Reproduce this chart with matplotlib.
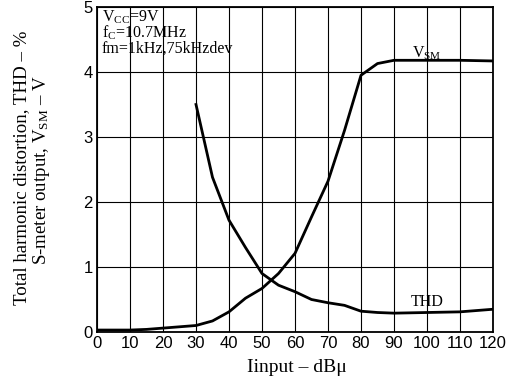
import matplotlib
matplotlib.use('Agg')
import matplotlib.pyplot as plt

plt.rcParams['mathtext.fontset'] = 'custom'
plt.rcParams['mathtext.rm'] = 'Liberation Serif'
plt.rcParams['mathtext.it'] = 'Liberation Serif:italic'

# S-meter output / THD vs input level
vsm_x = [0, 10, 15, 20, 30, 35, 40, 45, 50, 55, 60, 65, 70, 75, 80, 85, 90, 100, 110, 120]
vsm_y = [0.03, 0.03, 0.04, 0.06, 0.10, 0.17, 0.31, 0.52, 0.67, 0.90, 1.21, 1.77, 2.32, 3.10, 3.95, 4.13, 4.18, 4.18, 4.18, 4.17]

thd_x = [30, 35, 40, 45, 50, 55, 60, 65, 70, 75, 80, 85, 90, 100, 110, 120]
thd_y = [3.50, 2.38, 1.72, 1.30, 0.90, 0.72, 0.62, 0.50, 0.45, 0.41, 0.32, 0.30, 0.29, 0.30, 0.31, 0.35]

x_ticks = list(range(0, 121, 10))
y_ticks = [0, 1, 2, 3, 4, 5]

serif = 'Liberation Serif'

fig = plt.figure(figsize=(5.09, 3.81), dpi=100)
ax = fig.add_axes([97 / 509, 1 - 332 / 381, 396 / 509, 325 / 381])

ax.plot(vsm_x, vsm_y, color='black', lw=2)
ax.plot(thd_x, thd_y, color='black', lw=2)

ax.set_xlim(0, 120)
ax.set_ylim(0, 5)
ax.set_xticks(x_ticks)
ax.set_yticks(y_ticks)
ax.tick_params(length=0, labelsize=12, pad=3)
for lab in ax.get_xticklabels() + ax.get_yticklabels():
    lab.set_fontfamily('Liberation Sans')
ax.grid(True, color='black', lw=0.8)
for s in ax.spines.values():
    s.set_linewidth(1.3)

ax.text(100, 4.29, r'V$_{\mathregular{SM}}$', ha='center', va='center', fontsize=11.5, family=serif)
ax.text(100, 0.46, 'THD', ha='center', va='center', fontsize=11.5, family=serif)

ax.text(1.5, 4.98, 'V$_{\\mathregular{CC}}$=9V\nf$_{\\mathregular{C}}$=10.7MHz\nfm=1kHz,75kHzdev',
        ha='left', va='top', fontsize=11.5, family=serif, linespacing=0.85)

fig.text(297 / 509, 1 - 367 / 381, 'Iinput – dBμ', ha='center', va='center', fontsize=14, family=serif)
fig.text(22 / 509, 1 - 168 / 381, 'Total harmonic distortion, THD – %', rotation=90,
         ha='center', va='center', fontsize=13.6, family=serif)
fig.text(42 / 509, 1 - 170 / 381, r'S-meter output, V$_{\mathregular{SM}}$ – V', rotation=90,
         ha='center', va='center', fontsize=13.6, family=serif)

fig.savefig('out.png', dpi=100)
